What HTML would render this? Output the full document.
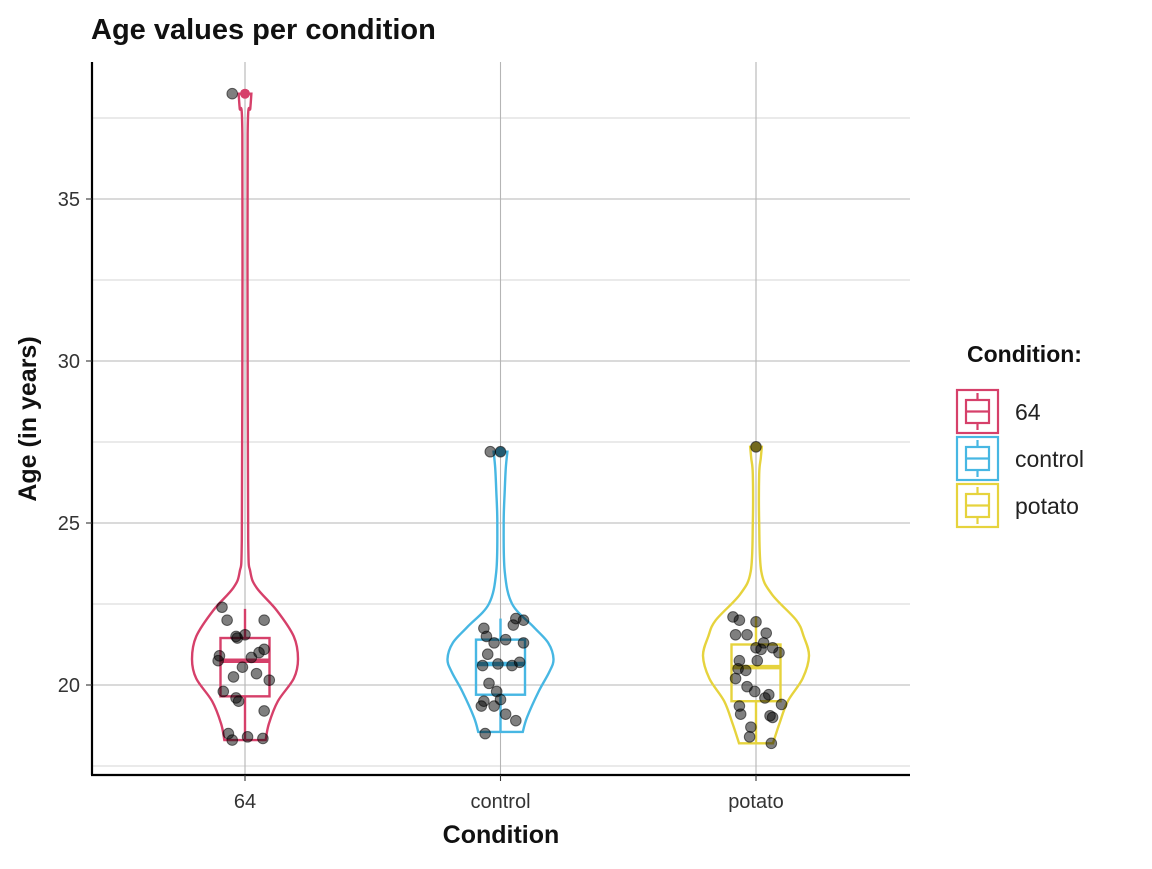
<!DOCTYPE html>
<html><head><meta charset="utf-8"><style>
body{margin:0;background:#fff;font-family:"Liberation Sans",Arial,sans-serif}
svg text{font-family:"Liberation Sans",Arial,sans-serif}
</style></head><body>
<svg id="chart" width="1152" height="864" xmlns="http://www.w3.org/2000/svg">
<text x="91" y="39" font-size="29" font-weight="bold" fill="#111">Age values per condition</text>
<g id="grid"></g>
<g id="violins"></g>
<g id="points"></g>
<line x1="92" y1="62" x2="92" y2="775" stroke="#000" stroke-width="2.2"/>
<line x1="91" y1="775" x2="910" y2="775" stroke="#000" stroke-width="2.2"/>
<g id="axes"></g>
<text x="501" y="843" font-size="25" font-weight="bold" text-anchor="middle" fill="#111">Condition</text>
<text transform="translate(36,419) rotate(-90)" font-size="25" font-weight="bold" text-anchor="middle" fill="#111">Age (in years)</text>
<g id="legend">
<text x="967" y="362" font-size="23" font-weight="bold" fill="#111">Condition:</text>
</g>
</svg>
<script>
const categories=["64","control","potato"];
const colors=["#d6406a","#47b7e3","#e6d33d"];
const yTicks=[20,25,30,35];
const boxQ1=[19.65,19.7,19.5];
const boxMed=[20.75,20.65,20.55];
const boxQ3=[21.45,21.4,21.25];
const whiskLo=[18.3,18.55,18.2];
const whiskHi=[22.35,22.05,22.1];
const outliers=[38.25,27.2,27.35];
const violinAges=[
[18.3,18.8,19.5,20.2,20.8,21.5,22.3,23,23.5,24.5,30,37,37.8,38.25],
[18.55,19,19.8,20.4,20.8,21.3,21.8,22.5,23.5,25,26,26.7,27.2],
[18.2,18.8,19.5,20.2,20.9,21.5,22,22.8,23.5,25,26.5,27,27.35]];
const violinWidths=[
[0.39,0.45,0.62,0.92,1.0,0.92,0.6,0.22,0.1,0.06,0.05,0.05,0.1,0.12],
[0.42,0.5,0.72,0.92,1.0,0.9,0.62,0.22,0.08,0.06,0.08,0.1,0.13],
[0.32,0.44,0.6,0.88,1.0,0.9,0.76,0.3,0.1,0.06,0.06,0.09,0.11]];
const pointAges=[
[22.4,22.0,21.45,21.55,21.5,22.0,20.9,20.75,20.85,21.0,21.1,20.25,20.35,20.55,19.8,19.6,19.5,20.15,19.2,18.5,18.3,18.4,18.35,38.25],
[27.2,27.2,22.05,22.0,21.85,21.75,21.5,21.3,20.95,21.4,21.3,20.6,20.65,20.6,20.7,20.05,19.8,19.55,19.35,19.5,19.35,19.1,18.9,18.5],
[27.35,22.1,22.0,21.95,21.55,21.55,21.6,21.3,21.1,21.15,21.0,21.15,20.75,20.5,20.75,20.45,20.2,19.95,19.8,19.35,19.7,19.6,19.4,19.1,19.05,19.0,18.7,18.4,18.2]];
const pointJitter=[
[-0.09,-0.07,-0.03,0.0,-0.035,0.075,-0.1,-0.105,0.025,0.055,0.075,-0.045,0.045,-0.01,-0.085,-0.035,-0.025,0.095,0.075,-0.065,-0.05,0.01,0.07,-0.05],
[-0.04,0.0,0.06,0.09,0.05,-0.065,-0.055,-0.025,-0.05,0.02,0.09,0.045,-0.01,-0.07,0.075,-0.045,-0.015,0.0,-0.025,-0.065,-0.075,0.02,0.06,-0.06],
[0.0,-0.09,-0.065,0.0,-0.035,-0.08,0.04,0.03,0.02,0.065,0.09,0.0,-0.065,-0.07,0.005,-0.04,-0.08,-0.035,-0.005,-0.065,0.05,0.035,0.1,-0.06,0.055,0.065,-0.02,-0.025,0.06]];
const X0=92,X1=910,Y0=62,Y1=775;
function yS(v){return 685-(v-20)*32.4;}
function xS(i){return 245+i*255.5;}
const NS="http://www.w3.org/2000/svg";
function mk(t,a,p){const e=document.createElementNS(NS,t);for(const k in a)e.setAttribute(k,a[k]);p.appendChild(e);return e;}
const grid=document.getElementById('grid'),axes=document.getElementById('axes');
for(let v=17.5;v<=37.5;v+=5){const l=mk('line',{x1:X0,x2:X1,y1:yS(v),y2:yS(v),stroke:'#d6d6d6','stroke-width':0.9},grid);

}
yTicks.forEach(v=>{const l=mk('line',{x1:X0,x2:X1,y1:yS(v),y2:yS(v),stroke:'#b5b5b5','stroke-width':1.1},grid);


const t=mk('text',{x:80,y:yS(v)+7,'font-size':20,'text-anchor':'end',fill:'#333'},axes);t.textContent=v;


const k=mk('line',{x1:86,x2:92,y1:yS(v),y2:yS(v),stroke:'#333','stroke-width':1.1},axes);

});
categories.forEach((c,i)=>{const l=mk('line',{x1:xS(i),x2:xS(i),y1:Y0,y2:Y1,stroke:'#b5b5b5','stroke-width':1.1},grid);


const k=mk('line',{x1:xS(i),x2:xS(i),y1:775,y2:781,stroke:'#333','stroke-width':1.1},axes);


const t=mk('text',{x:xS(i),y:808,'font-size':20,'text-anchor':'middle',fill:'#333'},axes);t.textContent=c;

});
const vg=document.getElementById('violins'),pg=document.getElementById('points');
const HW=53;
categories.forEach((c,i)=>{
 const cx=xS(i),A=violinAges[i],W=violinWidths[i];
 let r=A.map((a,j)=>[cx+W[j]*HW,yS(a)]),l=A.map((a,j)=>[cx-W[j]*HW,yS(a)]).reverse();
 function smooth(pts){let d='';for(let j=0;j<pts.length-1;j++){const p0=pts[Math.max(j-1,0)],p1=pts[j],p2=pts[j+1],p3=pts[Math.min(j+2,pts.length-1)];
 d+=` C${p1[0]+(p2[0]-p0[0])/6},${p1[1]+(p2[1]-p0[1])/6} ${p2[0]-(p3[0]-p1[0])/6},${p2[1]-(p3[1]-p1[1])/6} ${p2[0]},${p2[1]}`;}return d;}
 let d=`M${r[0][0]},${r[0][1]}`+smooth(r)+` L${l[0][0]},${l[0][1]}`+smooth(l)+'Z';
 const v=mk('path',{d:d,fill:'none',stroke:colors[i],'stroke-width':2.4},vg);
 
 
 const g=mk('g',{stroke:colors[i],'stroke-width':2.4,fill:'none'},vg);
 
 
 mk('line',{x1:cx,x2:cx,y1:yS(whiskHi[i]),y2:yS(boxQ3[i])},g);
 mk('line',{x1:cx,x2:cx,y1:yS(boxQ1[i]),y2:yS(whiskLo[i])},g);
 mk('rect',{x:cx-24.5,y:yS(boxQ3[i]),width:49,height:yS(boxQ1[i])-yS(boxQ3[i])},g);
 mk('line',{x1:cx-24.5,x2:cx+24.5,y1:yS(boxMed[i]),y2:yS(boxMed[i]),'stroke-width':4.5},g);
 const o=mk('circle',{cx:cx,cy:yS(outliers[i]),r:5,fill:colors[i],stroke:'none'},vg);
 
 
 pointAges[i].forEach((a,j)=>{const p=mk('circle',{cx:cx+pointJitter[i][j]*255.5,cy:yS(a),r:5.3,fill:'rgba(0,0,0,0.5)',stroke:'rgba(0,0,0,0.55)','stroke-width':1},pg);
 
 });
 const lg=document.getElementById('legend');
 const ly=390+i*47;
 const e=mk('g',{stroke:colors[i],'stroke-width':2.2,fill:'none'},lg);
 
 
 mk('rect',{x:957,y:ly,width:41,height:43},e);
 mk('rect',{x:966,y:ly+10,width:23,height:23},e);
 mk('line',{x1:966,x2:989,y1:ly+21.5,y2:ly+21.5},e);
 mk('line',{x1:977.5,x2:977.5,y1:ly+3,y2:ly+10},e);
 mk('line',{x1:977.5,x2:977.5,y1:ly+33,y2:ly+40},e);
 const t=mk('text',{x:1015,y:ly+30,'font-size':23,fill:'#222'},lg);t.textContent=c;
 
 
});
</script>
</body></html>
